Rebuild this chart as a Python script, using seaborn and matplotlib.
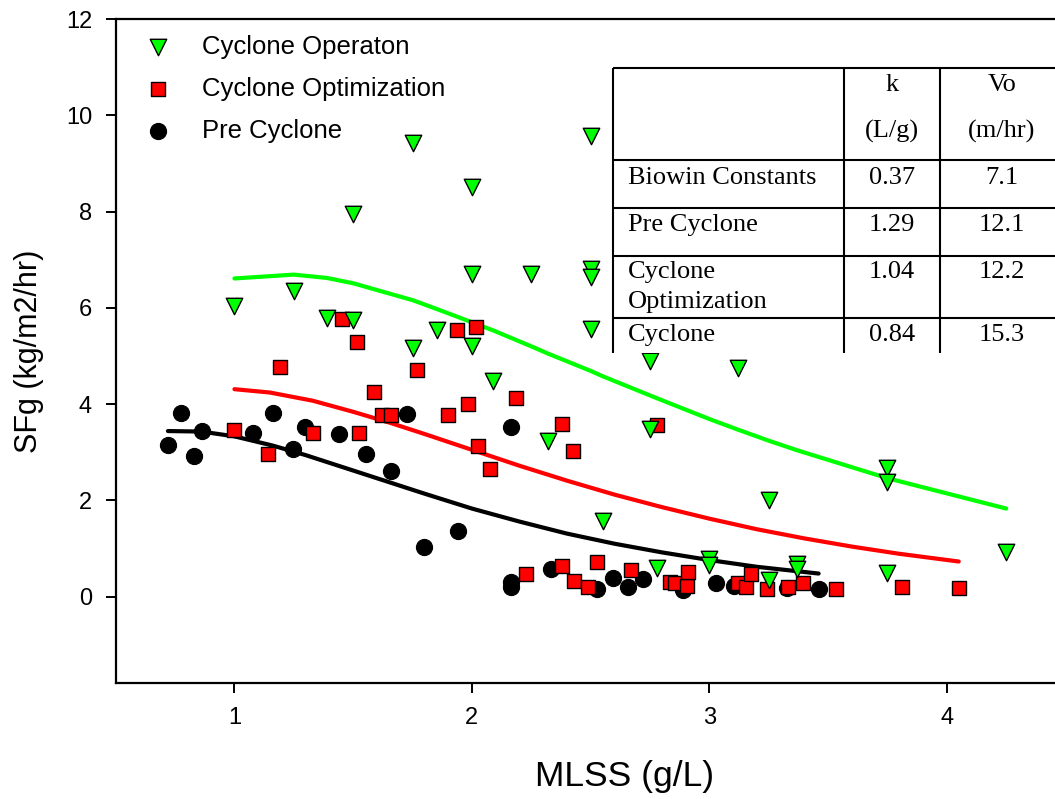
import numpy as np
import pandas as pd
import matplotlib
matplotlib.use("Agg")
import matplotlib.pyplot as plt
from matplotlib.patches import Rectangle
import seaborn as sns

# ---------------- data ----------------
# Cyclone Operaton (green triangles)
op_x = [1.00, 1.25, 1.39, 1.50, 1.50, 1.75, 1.75, 1.855, 2.00, 2.00, 2.00, 2.09, 2.25, 2.32, 2.50, 2.50,
        2.50, 2.50, 2.55, 2.75, 2.75, 2.78, 3.00, 3.00, 3.12, 3.25, 3.25, 3.37, 3.37, 3.75, 3.75, 3.75, 4.25]
op_y = [6.04, 6.35, 5.78, 7.95, 5.75, 9.42, 5.16, 5.54, 8.50, 6.70, 5.21, 4.47, 6.70, 3.23, 9.57, 6.80,
        6.65, 5.55, 1.58, 4.90, 3.48, 0.59, 0.78, 0.66, 4.74, 2.01, 0.35, 0.68, 0.58, 2.67, 2.39, 0.49, 0.93]

# Cyclone Optimization (red squares)
opt_x = [1.00, 1.14, 1.19, 1.33, 1.455, 1.515, 1.525, 1.587, 1.62, 1.66, 1.767, 1.90, 1.938, 1.984,
         2.019, 2.024, 2.075, 2.184, 2.227, 2.38, 2.38, 2.424, 2.43, 2.49, 2.525, 2.668, 2.78, 2.834,
         2.855, 2.906, 2.91, 3.119, 3.154, 3.175, 3.241, 3.332, 3.395, 3.533, 3.81, 4.05]
opt_y = [3.46, 2.96, 4.77, 3.41, 5.76, 5.28, 3.41, 4.25, 3.77, 3.77, 4.71, 3.77, 5.54, 4.00,
         5.60, 3.12, 2.65, 4.12, 0.47, 3.59, 0.64, 3.03, 0.33, 0.21, 0.73, 0.55, 3.57, 0.31,
         0.28, 0.22, 0.52, 0.28, 0.20, 0.47, 0.15, 0.20, 0.28, 0.15, 0.21, 0.19]

# Pre Cyclone (black circles)
pre_x = [0.72, 0.777, 0.829, 0.864, 1.078, 1.163, 1.247, 1.296, 1.44, 1.553, 1.661, 1.727, 1.80, 1.942,
         2.163, 2.163, 2.163, 2.332, 2.525, 2.595, 2.658, 2.719, 2.887, 3.027, 3.104, 3.325, 3.461]
pre_y = [3.15, 3.81, 2.92, 3.45, 3.39, 3.82, 3.06, 3.52, 3.37, 2.96, 2.61, 3.80, 1.04, 1.37,
         3.52, 0.30, 0.20, 0.58, 0.15, 0.38, 0.21, 0.36, 0.14, 0.28, 0.22, 0.17, 0.15]

# fitted curves (vertices)
fit_op_x = [1.0, 1.25, 1.39, 1.5, 1.75, 1.855, 2.0, 2.09, 2.25, 2.32, 2.5, 2.55, 2.75, 2.78, 3.0,
            3.12, 3.25, 3.37, 3.75, 4.25]
fit_op_y = [6.61, 6.69, 6.62, 6.51, 6.16, 5.97, 5.70, 5.53, 5.20, 5.05, 4.69, 4.58, 4.18, 4.12, 3.69,
            3.47, 3.24, 3.04, 2.46, 1.83]
fit_opt_x = [1.0, 1.15, 1.33, 1.5, 1.65, 1.8, 2.0, 2.2, 2.4, 2.6, 2.8, 3.0, 3.2, 3.4, 3.6, 3.8, 4.05]
fit_opt_y = [4.31, 4.24, 4.07, 3.84, 3.62, 3.38, 3.05, 2.72, 2.41, 2.12, 1.86, 1.62, 1.40, 1.21,
             1.04, 0.89, 0.73]
fit_pre_x = [0.72, 0.86, 1.0, 1.16, 1.3, 1.45, 1.6, 1.8, 2.0, 2.2, 2.4, 2.6, 2.8, 3.0, 3.2, 3.46]
fit_pre_y = [3.44, 3.43, 3.33, 3.14, 2.94, 2.70, 2.46, 2.14, 1.83, 1.56, 1.31, 1.10, 0.92, 0.76,
             0.62, 0.48]

series_labels = ["Cyclone Operaton", "Cyclone Optimization", "Pre Cyclone"]

x_ticks = [1, 2, 3, 4]
y_ticks = [0, 2, 4, 6, 8, 10, 12]

# inset table
table_header_k = ["k", "(L/g)"]
table_header_vo = ["Vo", "(m/hr)"]
table_rows = ["Biowin Constants", "Pre Cyclone", "Cyclone\nOptimization", "Cyclone"]
table_k = ["0.37", "1.29", "1.04", "0.84"]
table_vo = ["7.1", "12.1", "12.2", "15.3"]

# ---------------- style ----------------
sns.set_theme(style="ticks")
plt.rcParams["font.family"] = ["Liberation Sans", "DejaVu Sans"]
plt.rcParams["text.color"] = "black"
plt.rcParams["axes.labelcolor"] = "black"
plt.rcParams["xtick.color"] = "black"
plt.rcParams["ytick.color"] = "black"

W, H = 1055, 799
fig = plt.figure(figsize=(W / 100, H / 100), dpi=100)
fig.patch.set_facecolor("white")

ax_l, ax_r, ax_t, ax_b = 115.7, 1065.6, 19.0, 683.3
ax = fig.add_axes([ax_l / W, 1 - ax_b / H, (ax_r - ax_l) / W, (ax_b - ax_t) / H])
ax.set_facecolor("white")

# lines (under markers)
sns.lineplot(x=fit_op_x, y=fit_op_y, color="#00ff00", lw=3.0, sort=False, estimator=None, ax=ax,
             legend=False, zorder=2)
sns.lineplot(x=fit_opt_x, y=fit_opt_y, color="#ff0000", lw=3.0, sort=False, estimator=None, ax=ax,
             legend=False, zorder=2)
sns.lineplot(x=fit_pre_x, y=fit_pre_y, color="black", lw=3.0, sort=False, estimator=None, ax=ax,
             legend=False, zorder=2)

# markers
sns.scatterplot(x=pre_x, y=pre_y, marker="o", s=135, color="black", edgecolor="black", linewidth=0.8,
                ax=ax, label=series_labels[2], zorder=3)
sns.scatterplot(x=opt_x, y=opt_y, marker="s", s=100, color="#ff0000", edgecolor="black", linewidth=1.0,
                ax=ax, label=series_labels[1], zorder=4)
sns.scatterplot(x=op_x, y=op_y, marker="v", s=140, color="#00ff00", edgecolor="black", linewidth=1.0,
                ax=ax, label=series_labels[0], zorder=5)

ax.set_xlim(0.5, 4.5)
ax.set_ylim(-1.8, 12)
ax.set_xticks(x_ticks)
ax.set_yticks(y_ticks)
ax.tick_params(axis="both", direction="out", length=7, width=1.4, labelsize=17, pad=10, color="black",
               labelcolor="black")
for side in ["left", "bottom", "top"]:
    ax.spines[side].set_visible(True)
    ax.spines[side].set_color("black")
    ax.spines[side].set_linewidth(1.6)
ax.spines["right"].set_visible(False)

ax.set_xlabel("MLSS (g/L)", fontsize=25.5, color="black")
ax.set_ylabel("SFg (kg/m2/hr)", fontsize=22, color="black")
ax.xaxis.set_label_coords((625 - ax_l) / (ax_r - ax_l), (ax_b - 760) / (ax_b - ax_t))
ax.yaxis.set_label_coords((44 - ax_l) / (ax_r - ax_l), 0.5)

# legend, ordered like the reference
handles, labels = ax.get_legend_handles_labels()
order = [labels.index(l) for l in series_labels]
leg = ax.legend([handles[i] for i in order], [labels[i] for i in order],
                loc="upper left", bbox_to_anchor=(132 / W, 1 - 35 / H), bbox_transform=fig.transFigure,
                frameon=False, fontsize=18.5, labelspacing=0.70, handletextpad=0.72, handlelength=2.0,
                borderpad=0, borderaxespad=0)
for t in leg.get_texts():
    t.set_color("black")

# ---------------- inset table (figure pixel coordinates) ----------------
tab = fig.add_axes([0, 0, 1, 1], zorder=10)
tab.set_xlim(0, W)
tab.set_ylim(H, 0)
tab.axis("off")
tab.patch.set_visible(False)

t_left, t_c1, t_c2, t_right = 613.3, 844.3, 940.0, 1063.0
t_top, t_bot = 68.3, 353.3
row_lines = [160.0, 207.7, 255.7, 317.7]
tab.add_patch(Rectangle((t_left, t_top), t_right - t_left, t_bot - t_top, facecolor="white",
                        edgecolor="none", zorder=1))
lw_t = 1.5
tab.plot([t_left, t_right], [t_top, t_top], color="black", lw=lw_t, zorder=2, solid_capstyle="butt")
for yl in row_lines:
    tab.plot([t_left, t_right], [yl, yl], color="black", lw=lw_t, zorder=2, solid_capstyle="butt")
for xl in [t_left, t_c1, t_c2]:
    tab.plot([xl, xl], [t_top, t_bot], color="black", lw=lw_t, zorder=2, solid_capstyle="butt")

serif = ["Liberation Serif", "DejaVu Serif"]
tfs = 19
c_k = (t_c1 + t_c2) / 2
c_vo = 1001.7
for i, (tk, tv) in enumerate(zip(table_header_k, table_header_vo)):
    yy = [85.0, 131.7][i]
    tab.text(c_k, yy, tk, ha="center", va="center", fontsize=tfs, family=serif, color="black", zorder=3)
    tab.text(c_vo, yy, tv, ha="center", va="center", fontsize=tfs, family=serif, color="black", zorder=3)

row_y = [178.3, 225.0, 271.7, 335.0]
for name, kv, vv, yy in zip(table_rows, table_k, table_vo, row_y):
    for j, part in enumerate(name.split("\n")):
        tab.text(627.5, yy + 30 * j, part, ha="left", va="center", fontsize=tfs, family=serif,
                 color="black", zorder=3)
    tab.text(c_k, yy, kv, ha="center", va="center", fontsize=tfs, family=serif, color="black", zorder=3)
    tab.text(c_vo, yy, vv, ha="center", va="center", fontsize=tfs, family=serif, color="black", zorder=3)

fig.savefig("out.png", dpi=100, facecolor="white")
